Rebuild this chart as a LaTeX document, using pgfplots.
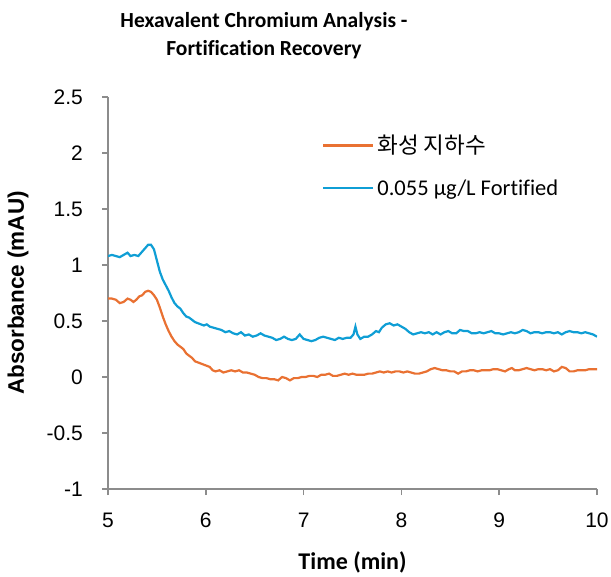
\documentclass[border=0pt]{standalone}
\usepackage{fontspec}
\setmainfont{Liberation Sans}
\newfontfamily\carlito{Carlito}[Ligatures=NoCommon]
\newfontfamily\kr{Noto Sans CJK KR}
\usepackage{pgfplots}
\pgfplotsset{compat=1.18}
\definecolor{sorange}{HTML}{E97132}
\definecolor{sblue}{HTML}{0F9ED5}
\definecolor{axgray}{HTML}{8C8C8C}
\begin{document}
\begin{tikzpicture}
\path[use as bounding box] (0,0) rectangle (611bp,577bp);
\node[font=\carlito\bfseries\fontsize{21.5bp}{28bp}\selectfont, align=center] at (264bp,541bp) {Hexavalent Chromium Analysis -\\Fortification Recovery};
\begin{axis}[
  at={(108bp,88bp)}, anchor=south west,
  scale only axis, width=489bp, height=392bp,
  xmin=5, xmax=10, ymin=-1, ymax=2.5,
  axis x line*=bottom, axis y line*=left,
  axis line style={draw=axgray, line width=1.5bp},
  xtick={5,6,7,8,9,10},
  ytick={-1,-0.5,0,0.5,1,1.5,2,2.5},
  tick align=outside, major tick length=6bp,
  tick style={draw=axgray, line width=1.5bp},
  /pgf/number format/assume math mode=true,
  ticklabel style={font=\fontsize{21bp}{25bp}\selectfont},
  yticklabel style={inner sep=0pt, xshift=-19bp},
  xticklabel style={inner sep=0pt, yshift=-18bp},
  xlabel={\carlito\bfseries Time (min)},
  xlabel style={font=\fontsize{24bp}{28bp}\selectfont, at={(axis description cs:0.5,0)}, anchor=center, yshift=-73bp},
  ylabel={\bfseries Absorbance (mAU)},
  ylabel style={font=\fontsize{22.5bp}{26bp}\selectfont, at={(axis description cs:-0.184,0.5)}, anchor=center},
  legend style={draw=none, fill=none, at={(axis description cs:0.4376,0.824)}, anchor=west,
    font=\fontsize{22.5bp}{26bp}\selectfont, row sep=20bp, column sep=1bp, inner sep=0pt},
  legend cell align=left,
  legend image code/.code={\draw[#1] (0bp,0bp) -- (50bp,0bp);},
]
\addplot[sorange, line width=2.2bp] table {
5.00 0.70
5.04 0.70
5.08 0.69
5.12 0.66
5.16 0.67
5.20 0.70
5.23 0.69
5.26 0.67
5.29 0.69
5.32 0.72
5.35 0.73
5.38 0.76
5.41 0.77
5.44 0.76
5.47 0.73
5.50 0.69
5.53 0.62
5.56 0.54
5.59 0.47
5.62 0.41
5.65 0.36
5.68 0.32
5.71 0.29
5.74 0.27
5.77 0.25
5.80 0.21
5.83 0.19
5.86 0.17
5.89 0.14
5.92 0.13
5.95 0.12
5.98 0.11
6.01 0.10
6.04 0.09
6.07 0.06
6.10 0.05
6.14 0.06
6.18 0.04
6.22 0.05
6.26 0.06
6.30 0.05
6.34 0.06
6.38 0.04
6.42 0.04
6.46 0.03
6.50 0.02
6.54 0.00
6.58 -0.01
6.62 -0.01
6.66 -0.02
6.70 -0.02
6.74 -0.03
6.78 0.00
6.82 -0.01
6.86 -0.03
6.90 -0.01
6.94 -0.01
6.98 0.00
7.02 0.00
7.06 0.01
7.10 0.01
7.14 0.00
7.18 0.02
7.22 0.02
7.26 0.03
7.30 0.01
7.34 0.01
7.38 0.02
7.42 0.03
7.46 0.02
7.50 0.03
7.54 0.02
7.58 0.02
7.62 0.02
7.66 0.03
7.70 0.03
7.74 0.04
7.78 0.05
7.82 0.04
7.86 0.05
7.90 0.04
7.94 0.05
7.98 0.05
8.02 0.04
8.06 0.05
8.10 0.04
8.14 0.03
8.18 0.03
8.22 0.04
8.26 0.05
8.30 0.07
8.34 0.08
8.38 0.07
8.42 0.06
8.46 0.06
8.50 0.05
8.54 0.05
8.58 0.03
8.62 0.05
8.66 0.05
8.70 0.06
8.74 0.06
8.78 0.05
8.82 0.06
8.86 0.06
8.90 0.06
8.94 0.07
8.98 0.07
9.02 0.06
9.06 0.05
9.10 0.07
9.13 0.08
9.16 0.06
9.20 0.06
9.24 0.07
9.28 0.08
9.32 0.07
9.36 0.06
9.40 0.07
9.44 0.07
9.48 0.06
9.52 0.07
9.56 0.05
9.60 0.06
9.64 0.09
9.68 0.08
9.72 0.05
9.76 0.05
9.80 0.06
9.84 0.06
9.88 0.06
9.92 0.07
9.96 0.07
10.00 0.07
};
\addlegendentry{\kr 화성 지하수}
\addplot[sblue, line width=2.2bp] table {
5.00 1.08
5.04 1.09
5.08 1.08
5.12 1.07
5.16 1.09
5.20 1.11
5.23 1.08
5.27 1.09
5.31 1.08
5.34 1.11
5.38 1.15
5.41 1.18
5.44 1.18
5.47 1.14
5.50 1.04
5.53 0.94
5.56 0.87
5.59 0.82
5.62 0.77
5.65 0.71
5.68 0.66
5.71 0.63
5.74 0.61
5.77 0.57
5.80 0.54
5.83 0.53
5.86 0.51
5.89 0.49
5.92 0.48
5.95 0.47
5.98 0.46
6.01 0.47
6.04 0.45
6.08 0.44
6.12 0.43
6.16 0.42
6.20 0.40
6.24 0.41
6.28 0.39
6.32 0.38
6.36 0.40
6.40 0.37
6.44 0.38
6.48 0.36
6.52 0.37
6.56 0.39
6.60 0.37
6.64 0.36
6.68 0.35
6.72 0.33
6.76 0.34
6.80 0.36
6.84 0.34
6.88 0.33
6.92 0.34
6.96 0.38
7.00 0.34
7.04 0.33
7.08 0.32
7.12 0.33
7.16 0.35
7.20 0.36
7.24 0.35
7.28 0.34
7.32 0.33
7.36 0.35
7.40 0.34
7.44 0.35
7.48 0.35
7.51 0.38
7.53 0.45
7.55 0.38
7.58 0.34
7.62 0.36
7.66 0.36
7.70 0.38
7.74 0.41
7.77 0.40
7.80 0.44
7.84 0.47
7.88 0.48
7.92 0.46
7.96 0.47
8.00 0.45
8.04 0.43
8.08 0.40
8.12 0.38
8.16 0.39
8.20 0.40
8.24 0.39
8.28 0.40
8.32 0.38
8.36 0.40
8.40 0.38
8.44 0.40
8.48 0.41
8.52 0.39
8.56 0.39
8.60 0.42
8.64 0.41
8.68 0.41
8.72 0.39
8.76 0.39
8.80 0.40
8.84 0.39
8.88 0.40
8.92 0.41
8.96 0.39
9.00 0.39
9.04 0.38
9.08 0.39
9.12 0.40
9.16 0.39
9.20 0.40
9.24 0.42
9.28 0.41
9.32 0.39
9.36 0.40
9.40 0.40
9.44 0.39
9.48 0.40
9.52 0.40
9.56 0.39
9.60 0.40
9.64 0.38
9.68 0.40
9.72 0.41
9.76 0.40
9.80 0.40
9.84 0.39
9.88 0.40
9.92 0.39
9.96 0.38
10.00 0.36
};
\addlegendentry{\carlito 0.055 µg/L Fortified}
\end{axis}
\end{tikzpicture}
\end{document}
